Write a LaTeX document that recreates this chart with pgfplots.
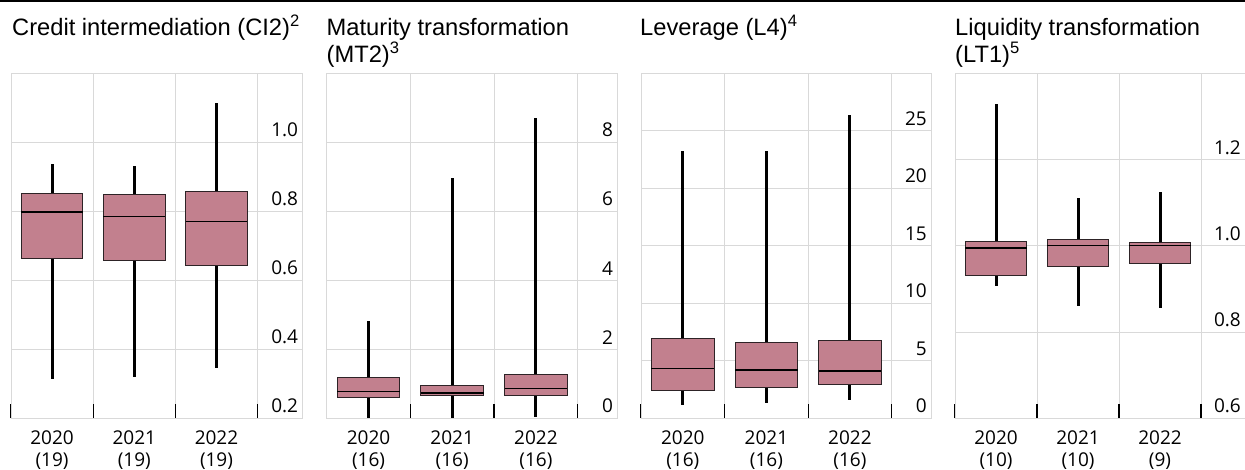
\documentclass[border=0pt]{standalone}
\usepackage{pgfplots}
\pgfplotsset{compat=1.18}
\usepgfplotslibrary{statistics}
\usepackage{fontspec}
\setmainfont{Liberation Sans}
\newfontfamily\tickfam{Open Sans}
\newcommand\titlefont{\fontsize{23.7bp}{26.7bp}\selectfont}
\newcommand\tickfont{\tickfam\fontsize{19bp}{22bp}\selectfont}
\definecolor{boxfill}{RGB}{194,128,142}
\definecolor{boxedge}{RGB}{45,35,38}
\definecolor{gridgrey}{RGB}{217,217,217}
\pgfplotsset{
  panel/.style={
    scale only axis, height=345bp, anchor=south west,
    xmin=-0.5, ymin=0,
    xtick={-0.5,0.5,1.5,2.5}, xticklabels={,,,},
    xmajorgrids, ymajorgrids,
    grid style={gridgrey, line width=0.9bp},
    axis line style={gridgrey, line width=0.9bp},
    xtick pos=bottom, tick align=inside,
    major tick length=14bp,
    x tick style={black, line width=1.2bp},
    y tick style={draw=none},
    yticklabel pos=right,
    yticklabel style={font=\tickfont, anchor=south east, inner sep=0pt, xshift=-4bp, yshift=5bp},
    xticklabel style={font=\tickfont, align=center, anchor=north, inner sep=0pt, yshift=-12.5bp},
    extra x ticks={0,1,2},
    extra x tick style={grid=none, major tick length=0pt},
    boxplot/draw direction=y,
    boxplot/box extend=0.75,
    boxplot/whisker extend=0,
    boxplot/every box/.style={fill=boxfill, draw=boxedge, line width=1bp},
    boxplot/every whisker/.style={black, line width=3bp},
    boxplot/every median/.style={black, line width=1.3bp},
  },
}
\begin{document}
\begin{tikzpicture}[x=1bp,y=1bp]
\path[use as bounding box] (0,0) rectangle (1245,470);
\draw[line width=1.5bp] (0,469.2) -- (1245,469.2);

% Panel 1
\begin{axis}[panel, at={(11bp,51.7bp)}, width=291.3bp,
  xmax=3.044, ymin=0.2, ymax=1.2,
  ytick={0.2,0.4,0.6,0.8,1.0}, yticklabels={0.2,0.4,0.6,0.8,1.0},
  extra x tick labels={{2020\\(19)},{2021\\(19)},{2022\\(19)}}]
\addplot[boxplot prepared={draw position=0, lower whisker=0.315, lower quartile=0.663, median=0.798, upper quartile=0.853, upper whisker=0.938}] coordinates {};
\addplot[boxplot prepared={draw position=1, lower whisker=0.320, lower quartile=0.658, median=0.785, upper quartile=0.849, upper whisker=0.931}] coordinates {};
\addplot[boxplot prepared={draw position=2, lower whisker=0.347, lower quartile=0.643, median=0.771, upper quartile=0.857, upper whisker=1.115}] coordinates {};
\end{axis}

% Panel 2
\begin{axis}[panel, at={(326.7bp,51.7bp)}, width=290.6bp,
  xmax=2.973, ymin=0, ymax=10,
  ytick={0,2,4,6,8}, yticklabels={0,2,4,6,8},
  extra x tick labels={{2020\\(16)},{2021\\(16)},{2022\\(16)}}]
\addplot[boxplot prepared={draw position=0, lower whisker=0.02, lower quartile=0.61, median=0.78, upper quartile=1.18, upper whisker=2.81}] coordinates {};
\addplot[boxplot prepared={draw position=1, lower whisker=0.02, lower quartile=0.65, median=0.73, upper quartile=0.96, upper whisker=6.96}] coordinates {};
\addplot[boxplot prepared={draw position=2, lower whisker=0.05, lower quartile=0.65, median=0.87, upper quartile=1.26, upper whisker=8.70}] coordinates {};
\end{axis}

% Panel 3
\begin{axis}[panel, at={(641bp,51.7bp)}, width=290bp,
  xmax=2.970, ymin=0, ymax=30,
  ytick={0,5,10,15,20,25}, yticklabels={0,5,10,15,20,25},
  extra x tick labels={{2020\\(16)},{2021\\(16)},{2022\\(16)}}]
\addplot[boxplot prepared={draw position=0, lower whisker=1.16, lower quartile=2.38, median=4.36, upper quartile=6.90, upper whisker=23.2}] coordinates {};
\addplot[boxplot prepared={draw position=1, lower whisker=1.31, lower quartile=2.70, median=4.21, upper quartile=6.62, upper whisker=23.2}] coordinates {};
\addplot[boxplot prepared={draw position=2, lower whisker=1.59, lower quartile=2.96, median=4.12, upper quartile=6.76, upper whisker=26.4}] coordinates {};
\end{axis}

% Panel 4
\begin{axis}[panel, at={(955bp,51.7bp)}, width=290bp,
  xmax=3.037, ymin=0.6, ymax=1.4,
  ytick={0.6,0.8,1.0,1.2}, yticklabels={0.6,0.8,1.0,1.2},
  extra x tick labels={{2020\\(10)},{2021\\(10)},{2022\\(9)}}]
\addplot[boxplot prepared={draw position=0, lower whisker=0.907, lower quartile=0.932, median=0.995, upper quartile=1.011, upper whisker=1.329}] coordinates {};
\addplot[boxplot prepared={draw position=1, lower whisker=0.861, lower quartile=0.952, median=1.000, upper quartile=1.014, upper whisker=1.110}] coordinates {};
\addplot[boxplot prepared={draw position=2, lower whisker=0.855, lower quartile=0.958, median=1.000, upper quartile=1.008, upper whisker=1.124}] coordinates {};
\end{axis}

% Titles
\node[anchor=base west, inner sep=0pt] at (12,434) {\titlefont Credit intermediation (CI2)\textsuperscript{2}};
\node[anchor=base west, inner sep=0pt] at (326.5,434) {\titlefont Maturity transformation};
\node[anchor=base west, inner sep=0pt] at (326.5,407.3) {\titlefont (MT2)\textsuperscript{3}};
\node[anchor=base west, inner sep=0pt] at (640,434) {\titlefont Leverage (L4)\textsuperscript{4}};
\node[anchor=base west, inner sep=0pt] at (955,434) {\titlefont Liquidity transformation};
\node[anchor=base west, inner sep=0pt] at (955,407.3) {\titlefont (LT1)\textsuperscript{5}};
\end{tikzpicture}
\end{document}
